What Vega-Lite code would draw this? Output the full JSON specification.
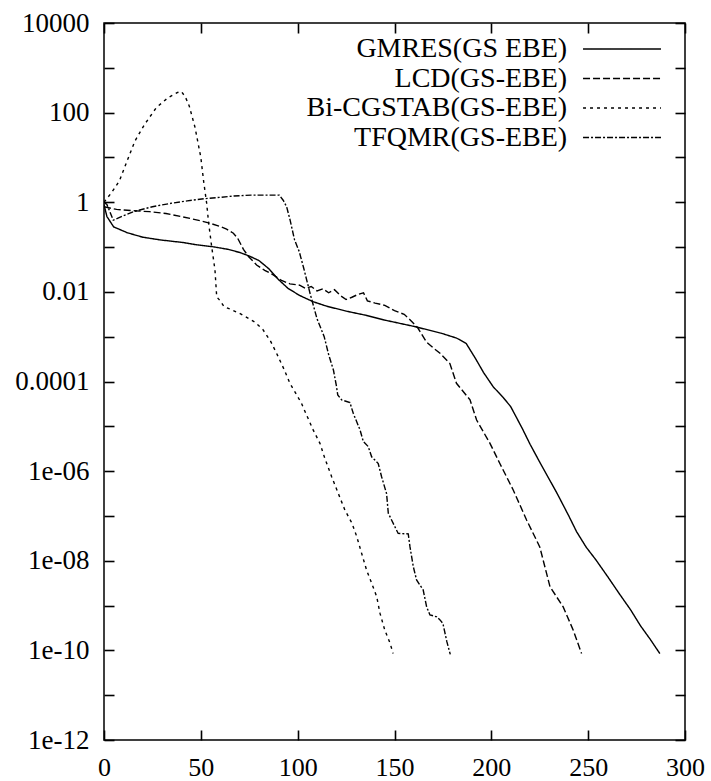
{
  "$schema": "https://vega.github.io/schema/vega-lite/v6.json",
  "width": 581,
  "height": 717,
  "autosize": {"type": "none"},
  "padding": {"left": 104, "top": 23, "right": 26, "bottom": 41},
  "background": "white",
  "config": {
    "view": {"stroke": "black", "strokeWidth": 1.5},
    "font": "Liberation Serif",
    "axis": {
      "domain": false, "grid": false,
      "labelColor": "black", "labelFont": "Liberation Serif", "labelFontSize": 27,
      "title": null
    },
    "legend": {"labelFont": "Liberation Serif"}
  },
  "data": {"values": [
    {"series": "GMRES(GS EBE)", "x": 0, "y": 0.89},
    {"series": "GMRES(GS EBE)", "x": 1.5, "y": 0.48},
    {"series": "GMRES(GS EBE)", "x": 5, "y": 0.282},
    {"series": "GMRES(GS EBE)", "x": 12, "y": 0.209},
    {"series": "GMRES(GS EBE)", "x": 20, "y": 0.166},
    {"series": "GMRES(GS EBE)", "x": 29, "y": 0.1445},
    {"series": "GMRES(GS EBE)", "x": 41, "y": 0.126},
    {"series": "GMRES(GS EBE)", "x": 48, "y": 0.112},
    {"series": "GMRES(GS EBE)", "x": 56, "y": 0.102},
    {"series": "GMRES(GS EBE)", "x": 64, "y": 0.0891},
    {"series": "GMRES(GS EBE)", "x": 70, "y": 0.0759},
    {"series": "GMRES(GS EBE)", "x": 75, "y": 0.0631},
    {"series": "GMRES(GS EBE)", "x": 80, "y": 0.0501},
    {"series": "GMRES(GS EBE)", "x": 85, "y": 0.0331},
    {"series": "GMRES(GS EBE)", "x": 90, "y": 0.019},
    {"series": "GMRES(GS EBE)", "x": 95, "y": 0.012},
    {"series": "GMRES(GS EBE)", "x": 101, "y": 0.00832},
    {"series": "GMRES(GS EBE)", "x": 108, "y": 0.00603},
    {"series": "GMRES(GS EBE)", "x": 115, "y": 0.00479},
    {"series": "GMRES(GS EBE)", "x": 125, "y": 0.00372},
    {"series": "GMRES(GS EBE)", "x": 135, "y": 0.00302},
    {"series": "GMRES(GS EBE)", "x": 145, "y": 0.00234},
    {"series": "GMRES(GS EBE)", "x": 160, "y": 0.0017},
    {"series": "GMRES(GS EBE)", "x": 174, "y": 0.0012},
    {"series": "GMRES(GS EBE)", "x": 182, "y": 0.000933},
    {"series": "GMRES(GS EBE)", "x": 187, "y": 0.000708},
    {"series": "GMRES(GS EBE)", "x": 192, "y": 0.000316},
    {"series": "GMRES(GS EBE)", "x": 196, "y": 0.000158},
    {"series": "GMRES(GS EBE)", "x": 201, "y": 7.59e-5},
    {"series": "GMRES(GS EBE)", "x": 206, "y": 4.47e-5},
    {"series": "GMRES(GS EBE)", "x": 210, "y": 2.75e-5},
    {"series": "GMRES(GS EBE)", "x": 216, "y": 8.91e-6},
    {"series": "GMRES(GS EBE)", "x": 220, "y": 3.98e-6},
    {"series": "GMRES(GS EBE)", "x": 225, "y": 1.585e-6},
    {"series": "GMRES(GS EBE)", "x": 234, "y": 3.16e-7},
    {"series": "GMRES(GS EBE)", "x": 240, "y": 1e-7},
    {"series": "GMRES(GS EBE)", "x": 244, "y": 4.47e-8},
    {"series": "GMRES(GS EBE)", "x": 249, "y": 2.0e-8},
    {"series": "GMRES(GS EBE)", "x": 254, "y": 1.047e-8},
    {"series": "GMRES(GS EBE)", "x": 260, "y": 4.47e-9},
    {"series": "GMRES(GS EBE)", "x": 266, "y": 1.86e-9},
    {"series": "GMRES(GS EBE)", "x": 272, "y": 7.94e-10},
    {"series": "GMRES(GS EBE)", "x": 277, "y": 3.55e-10},
    {"series": "GMRES(GS EBE)", "x": 282, "y": 1.78e-10},
    {"series": "GMRES(GS EBE)", "x": 287, "y": 8.5e-11},

    {"series": "LCD(GS-EBE)", "x": 0, "y": 0.794},
    {"series": "LCD(GS-EBE)", "x": 6.5, "y": 0.692},
    {"series": "LCD(GS-EBE)", "x": 15, "y": 0.646},
    {"series": "LCD(GS-EBE)", "x": 23.5, "y": 0.617},
    {"series": "LCD(GS-EBE)", "x": 32, "y": 0.562},
    {"series": "LCD(GS-EBE)", "x": 40, "y": 0.479},
    {"series": "LCD(GS-EBE)", "x": 49.6, "y": 0.389},
    {"series": "LCD(GS-EBE)", "x": 54.7, "y": 0.339},
    {"series": "LCD(GS-EBE)", "x": 60, "y": 0.288},
    {"series": "LCD(GS-EBE)", "x": 63.3, "y": 0.251},
    {"series": "LCD(GS-EBE)", "x": 66.8, "y": 0.204},
    {"series": "LCD(GS-EBE)", "x": 69, "y": 0.158},
    {"series": "LCD(GS-EBE)", "x": 72, "y": 0.0891},
    {"series": "LCD(GS-EBE)", "x": 74.6, "y": 0.0617},
    {"series": "LCD(GS-EBE)", "x": 78.8, "y": 0.0398},
    {"series": "LCD(GS-EBE)", "x": 83, "y": 0.0302},
    {"series": "LCD(GS-EBE)", "x": 87.4, "y": 0.024},
    {"series": "LCD(GS-EBE)", "x": 91.4, "y": 0.0182},
    {"series": "LCD(GS-EBE)", "x": 96, "y": 0.0151},
    {"series": "LCD(GS-EBE)", "x": 101, "y": 0.0141},
    {"series": "LCD(GS-EBE)", "x": 104, "y": 0.012},
    {"series": "LCD(GS-EBE)", "x": 107, "y": 0.0132},
    {"series": "LCD(GS-EBE)", "x": 110, "y": 0.0105},
    {"series": "LCD(GS-EBE)", "x": 113, "y": 0.0117},
    {"series": "LCD(GS-EBE)", "x": 116, "y": 0.00955},
    {"series": "LCD(GS-EBE)", "x": 119, "y": 0.0112},
    {"series": "LCD(GS-EBE)", "x": 122, "y": 0.00832},
    {"series": "LCD(GS-EBE)", "x": 125, "y": 0.00676},
    {"series": "LCD(GS-EBE)", "x": 128, "y": 0.00759},
    {"series": "LCD(GS-EBE)", "x": 131, "y": 0.00871},
    {"series": "LCD(GS-EBE)", "x": 134, "y": 0.00955},
    {"series": "LCD(GS-EBE)", "x": 136, "y": 0.00631},
    {"series": "LCD(GS-EBE)", "x": 140, "y": 0.00562},
    {"series": "LCD(GS-EBE)", "x": 145, "y": 0.00501},
    {"series": "LCD(GS-EBE)", "x": 150, "y": 0.0038},
    {"series": "LCD(GS-EBE)", "x": 155, "y": 0.00316},
    {"series": "LCD(GS-EBE)", "x": 158, "y": 0.0024},
    {"series": "LCD(GS-EBE)", "x": 162, "y": 0.00158},
    {"series": "LCD(GS-EBE)", "x": 166.5, "y": 0.000759},
    {"series": "LCD(GS-EBE)", "x": 170, "y": 0.000562},
    {"series": "LCD(GS-EBE)", "x": 173.5, "y": 0.000427},
    {"series": "LCD(GS-EBE)", "x": 178.6, "y": 0.000251},
    {"series": "LCD(GS-EBE)", "x": 182, "y": 9.12e-5},
    {"series": "LCD(GS-EBE)", "x": 189, "y": 3.89e-5},
    {"series": "LCD(GS-EBE)", "x": 192.4, "y": 1.38e-5},
    {"series": "LCD(GS-EBE)", "x": 199.3, "y": 4.17e-6},
    {"series": "LCD(GS-EBE)", "x": 204.4, "y": 1.48e-6},
    {"series": "LCD(GS-EBE)", "x": 211.3, "y": 3.8e-7},
    {"series": "LCD(GS-EBE)", "x": 218.2, "y": 8.13e-8},
    {"series": "LCD(GS-EBE)", "x": 225, "y": 2.04e-8},
    {"series": "LCD(GS-EBE)", "x": 230.3, "y": 2.63e-9},
    {"series": "LCD(GS-EBE)", "x": 237.1, "y": 9.33e-10},
    {"series": "LCD(GS-EBE)", "x": 242.3, "y": 2.82e-10},
    {"series": "LCD(GS-EBE)", "x": 246.6, "y": 8.5e-11},

    {"series": "Bi-CGSTAB(GS-EBE)", "x": 0, "y": 1},
    {"series": "Bi-CGSTAB(GS-EBE)", "x": 4, "y": 1.66},
    {"series": "Bi-CGSTAB(GS-EBE)", "x": 8, "y": 3.02},
    {"series": "Bi-CGSTAB(GS-EBE)", "x": 12, "y": 8.51},
    {"series": "Bi-CGSTAB(GS-EBE)", "x": 16, "y": 23.4},
    {"series": "Bi-CGSTAB(GS-EBE)", "x": 21, "y": 55},
    {"series": "Bi-CGSTAB(GS-EBE)", "x": 27, "y": 129},
    {"series": "Bi-CGSTAB(GS-EBE)", "x": 33, "y": 214},
    {"series": "Bi-CGSTAB(GS-EBE)", "x": 38, "y": 282},
    {"series": "Bi-CGSTAB(GS-EBE)", "x": 40, "y": 295},
    {"series": "Bi-CGSTAB(GS-EBE)", "x": 42, "y": 224},
    {"series": "Bi-CGSTAB(GS-EBE)", "x": 44, "y": 141},
    {"series": "Bi-CGSTAB(GS-EBE)", "x": 47, "y": 46.8},
    {"series": "Bi-CGSTAB(GS-EBE)", "x": 50, "y": 10},
    {"series": "Bi-CGSTAB(GS-EBE)", "x": 51.5, "y": 2.82},
    {"series": "Bi-CGSTAB(GS-EBE)", "x": 53, "y": 0.955},
    {"series": "Bi-CGSTAB(GS-EBE)", "x": 54, "y": 0.355},
    {"series": "Bi-CGSTAB(GS-EBE)", "x": 55.6, "y": 0.102},
    {"series": "Bi-CGSTAB(GS-EBE)", "x": 57.3, "y": 0.0309},
    {"series": "Bi-CGSTAB(GS-EBE)", "x": 58.2, "y": 0.00776},
    {"series": "Bi-CGSTAB(GS-EBE)", "x": 60, "y": 0.00631},
    {"series": "Bi-CGSTAB(GS-EBE)", "x": 62, "y": 0.00468},
    {"series": "Bi-CGSTAB(GS-EBE)", "x": 66, "y": 0.00398},
    {"series": "Bi-CGSTAB(GS-EBE)", "x": 70, "y": 0.00331},
    {"series": "Bi-CGSTAB(GS-EBE)", "x": 75, "y": 0.00251},
    {"series": "Bi-CGSTAB(GS-EBE)", "x": 78, "y": 0.00209},
    {"series": "Bi-CGSTAB(GS-EBE)", "x": 82, "y": 0.00145},
    {"series": "Bi-CGSTAB(GS-EBE)", "x": 86, "y": 0.000794},
    {"series": "Bi-CGSTAB(GS-EBE)", "x": 89, "y": 0.000437},
    {"series": "Bi-CGSTAB(GS-EBE)", "x": 93, "y": 0.000186},
    {"series": "Bi-CGSTAB(GS-EBE)", "x": 96, "y": 9.12e-5},
    {"series": "Bi-CGSTAB(GS-EBE)", "x": 99.5, "y": 5.01e-5},
    {"series": "Bi-CGSTAB(GS-EBE)", "x": 102, "y": 3.24e-5},
    {"series": "Bi-CGSTAB(GS-EBE)", "x": 104.6, "y": 1.78e-5},
    {"series": "Bi-CGSTAB(GS-EBE)", "x": 108, "y": 8.32e-6},
    {"series": "Bi-CGSTAB(GS-EBE)", "x": 111.5, "y": 4.17e-6},
    {"series": "Bi-CGSTAB(GS-EBE)", "x": 114, "y": 1.95e-6},
    {"series": "Bi-CGSTAB(GS-EBE)", "x": 117.5, "y": 7.59e-7},
    {"series": "Bi-CGSTAB(GS-EBE)", "x": 121, "y": 3.16e-7},
    {"series": "Bi-CGSTAB(GS-EBE)", "x": 124.4, "y": 1.35e-7},
    {"series": "Bi-CGSTAB(GS-EBE)", "x": 128, "y": 6.92e-8},
    {"series": "Bi-CGSTAB(GS-EBE)", "x": 130.5, "y": 3.47e-8},
    {"series": "Bi-CGSTAB(GS-EBE)", "x": 133, "y": 1.48e-8},
    {"series": "Bi-CGSTAB(GS-EBE)", "x": 135.6, "y": 6.17e-9},
    {"series": "Bi-CGSTAB(GS-EBE)", "x": 138.2, "y": 3.16e-9},
    {"series": "Bi-CGSTAB(GS-EBE)", "x": 140.8, "y": 1.585e-9},
    {"series": "Bi-CGSTAB(GS-EBE)", "x": 142.5, "y": 6.76e-10},
    {"series": "Bi-CGSTAB(GS-EBE)", "x": 145, "y": 2.82e-10},
    {"series": "Bi-CGSTAB(GS-EBE)", "x": 147.7, "y": 1.445e-10},
    {"series": "Bi-CGSTAB(GS-EBE)", "x": 149.3, "y": 8.5e-11},

    {"series": "TFQMR(GS-EBE)", "x": 0, "y": 1},
    {"series": "TFQMR(GS-EBE)", "x": 1.5, "y": 0.891},
    {"series": "TFQMR(GS-EBE)", "x": 4.8, "y": 0.398},
    {"series": "TFQMR(GS-EBE)", "x": 10, "y": 0.501},
    {"series": "TFQMR(GS-EBE)", "x": 16, "y": 0.631},
    {"series": "TFQMR(GS-EBE)", "x": 25, "y": 0.794},
    {"series": "TFQMR(GS-EBE)", "x": 35, "y": 0.955},
    {"series": "TFQMR(GS-EBE)", "x": 43, "y": 1.072},
    {"series": "TFQMR(GS-EBE)", "x": 52, "y": 1.202},
    {"series": "TFQMR(GS-EBE)", "x": 60, "y": 1.288},
    {"series": "TFQMR(GS-EBE)", "x": 67, "y": 1.38},
    {"series": "TFQMR(GS-EBE)", "x": 76, "y": 1.445},
    {"series": "TFQMR(GS-EBE)", "x": 83, "y": 1.445},
    {"series": "TFQMR(GS-EBE)", "x": 90.5, "y": 1.445},
    {"series": "TFQMR(GS-EBE)", "x": 92.6, "y": 1.096},
    {"series": "TFQMR(GS-EBE)", "x": 94.3, "y": 0.794},
    {"series": "TFQMR(GS-EBE)", "x": 96.1, "y": 0.398},
    {"series": "TFQMR(GS-EBE)", "x": 98.4, "y": 0.1445},
    {"series": "TFQMR(GS-EBE)", "x": 100.8, "y": 0.0794},
    {"series": "TFQMR(GS-EBE)", "x": 103, "y": 0.0355},
    {"series": "TFQMR(GS-EBE)", "x": 106.5, "y": 0.00891},
    {"series": "TFQMR(GS-EBE)", "x": 110, "y": 0.00251},
    {"series": "TFQMR(GS-EBE)", "x": 113.7, "y": 0.001},
    {"series": "TFQMR(GS-EBE)", "x": 116, "y": 0.000398},
    {"series": "TFQMR(GS-EBE)", "x": 118.5, "y": 0.000178},
    {"series": "TFQMR(GS-EBE)", "x": 120, "y": 7.94e-5},
    {"series": "TFQMR(GS-EBE)", "x": 120.7, "y": 5.01e-5},
    {"series": "TFQMR(GS-EBE)", "x": 122.7, "y": 3.89e-5},
    {"series": "TFQMR(GS-EBE)", "x": 127, "y": 3.39e-5},
    {"series": "TFQMR(GS-EBE)", "x": 128.7, "y": 1.95e-5},
    {"series": "TFQMR(GS-EBE)", "x": 132.2, "y": 8.32e-6},
    {"series": "TFQMR(GS-EBE)", "x": 133.9, "y": 4.57e-6},
    {"series": "TFQMR(GS-EBE)", "x": 136.4, "y": 3.55e-6},
    {"series": "TFQMR(GS-EBE)", "x": 138.2, "y": 2.09e-6},
    {"series": "TFQMR(GS-EBE)", "x": 141.6, "y": 1.48e-6},
    {"series": "TFQMR(GS-EBE)", "x": 143.3, "y": 7.59e-7},
    {"series": "TFQMR(GS-EBE)", "x": 145.9, "y": 3.16e-7},
    {"series": "TFQMR(GS-EBE)", "x": 146.8, "y": 1.15e-7},
    {"series": "TFQMR(GS-EBE)", "x": 150.2, "y": 5.75e-8},
    {"series": "TFQMR(GS-EBE)", "x": 151.9, "y": 4.07e-8},
    {"series": "TFQMR(GS-EBE)", "x": 157.1, "y": 3.98e-8},
    {"series": "TFQMR(GS-EBE)", "x": 158, "y": 2.04e-8},
    {"series": "TFQMR(GS-EBE)", "x": 159.7, "y": 7.41e-9},
    {"series": "TFQMR(GS-EBE)", "x": 161.4, "y": 3.72e-9},
    {"series": "TFQMR(GS-EBE)", "x": 164.8, "y": 2.24e-9},
    {"series": "TFQMR(GS-EBE)", "x": 166.6, "y": 9.33e-10},
    {"series": "TFQMR(GS-EBE)", "x": 168.3, "y": 6.17e-10},
    {"series": "TFQMR(GS-EBE)", "x": 171.8, "y": 5.62e-10},
    {"series": "TFQMR(GS-EBE)", "x": 173.5, "y": 4.79e-10},
    {"series": "TFQMR(GS-EBE)", "x": 175, "y": 3.98e-10},
    {"series": "TFQMR(GS-EBE)", "x": 177, "y": 1.585e-10},
    {"series": "TFQMR(GS-EBE)", "x": 178.8, "y": 8.13e-11}
  ]},
  "layer": [
    {
      "mark": {"type": "line", "color": "black", "strokeWidth": 1.4, "clip": true},
      "encoding": {
        "x": {"field": "x", "type": "quantitative",
              "scale": {"domain": [0, 300], "nice": false, "zero": false},
              "axis": {"orient": "bottom", "values": [0, 50, 100, 150, 200, 250, 300],
                       "tickSize": -10, "tickColor": "black", "tickWidth": 1.6,
                       "labelPadding": 24, "labelFontSize": 26, "labelFlush": false}},
        "y": {"field": "y", "type": "quantitative",
              "scale": {"type": "log", "domain": [1e-12, 10000], "nice": false},
              "axis": {"orient": "left",
                       "values": [10000, 1000, 100, 10, 1, 0.1, 0.01, 0.001, 0.0001, 1e-5, 1e-6, 1e-7, 1e-8, 1e-9, 1e-10, 1e-11, 1e-12],
                       "tickSize": -10, "tickColor": "black", "tickWidth": 1.6,
                       "labelPadding": 25, "labelFlush": false,
                       "labelExpr": "round(log(datum.value)/LN10) % 2 != 0 ? '' : (datum.value >= 0.0001 ? format(datum.value, '') : '1e-' + (datum.value > 1e-10 ? '0' : '') + (-round(log(datum.value)/LN10)))"}},
        "strokeDash": {"field": "series", "type": "nominal",
              "scale": {"domain": ["GMRES(GS EBE)", "LCD(GS-EBE)", "Bi-CGSTAB(GS-EBE)", "TFQMR(GS-EBE)"],
                        "range": [[1, 0], [7, 3], [3, 4], [6, 2, 2, 2]]},
              "legend": {
                "title": null, "orient": "none", "legendX": 504, "legendY": 12,
                "padding": 0, "rowPadding": 1.5,
                "symbolType": "M-5,0H5", "symbolSize": 243,
                "symbolStrokeColor": "black", "symbolStrokeWidth": 1.4,
                "labelFontSize": 28, "labelColor": "black", "labelFont": "Liberation Serif",
                "labelAlign": "right", "labelOffset": -68.8, "labelLimit": 500
              }}
      }
    },
    {
      "mark": {"type": "line", "opacity": 0},
      "encoding": {
        "x": {"field": "x", "type": "quantitative",
              "axis": {"orient": "top", "values": [0, 50, 100, 150, 200, 250, 300], "labels": false,
                       "tickSize": -10, "tickColor": "black", "tickWidth": 1.6}},
        "y": {"field": "y", "type": "quantitative",
              "axis": {"orient": "right",
                       "values": [10000, 1000, 100, 10, 1, 0.1, 0.01, 0.001, 0.0001, 1e-5, 1e-6, 1e-7, 1e-8, 1e-9, 1e-10, 1e-11, 1e-12],
                       "labels": false,
                       "tickSize": -10, "tickColor": "black", "tickWidth": 1.6}},
        "detail": {"field": "series"}
      }
    }
  ],
  "resolve": {"axis": {"x": "independent", "y": "independent"}}
}
